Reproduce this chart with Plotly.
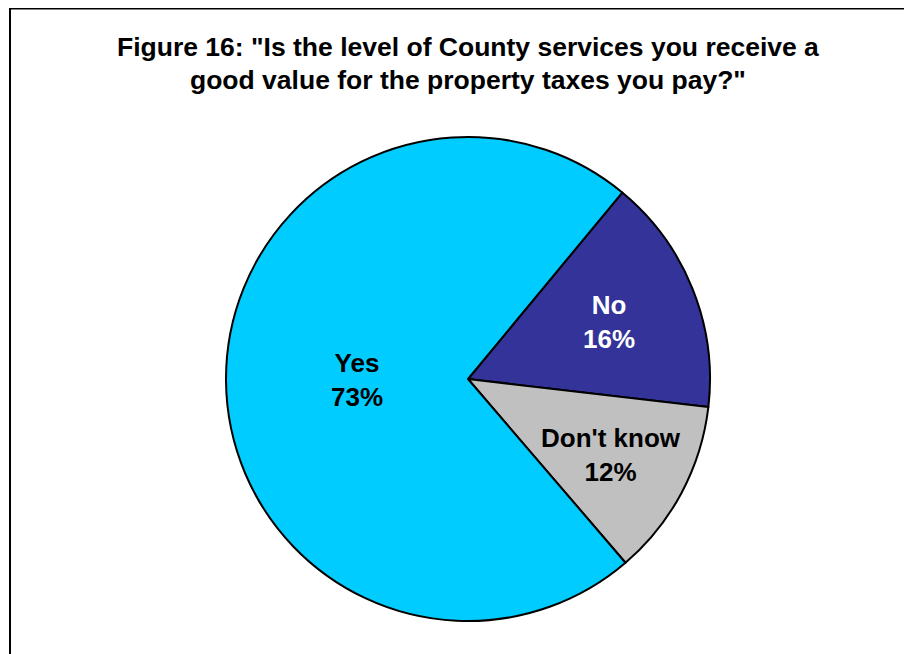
import math
import plotly.graph_objects as go

labels = ["No", "Don't know", "Yes"]
values = [16, 12, 73]
colors = ["#333399", "#C0C0C0", "#00CCFF"]
text_colors = ["white", "black", "black"]
label_radius = [0.63, 0.67, 0.46]   # label distance from centre, as fraction of radius (style)
title_lines = ['Figure 16: "Is the level of County services you receive a',
               'good value for the property taxes you pay?"']

# page has an 8px body margin, so the figure is drawn 8px smaller and offset
OFF = 8
W, H = 912 - OFF, 654 - OFF
cx, cy, r = 468 - OFF, 379 - OFF, 242
ROT = 39.6

fig = go.Figure(go.Pie(
    labels=labels, values=values, sort=False, direction="clockwise",
    rotation=ROT,
    marker=dict(colors=colors, line=dict(color="black", width=2)),
    textinfo="none",
    hoverinfo="label+value",
    domain=dict(x=[(cx - r) / W, (cx + r) / W],
                y=[(H - cy - r) / H, (H - cy + r) / H]),
    showlegend=False,
))

# slice labels placed at each slice's mid-angle, derived from the values
total = sum(values)
start = 90 - ROT
cum = 0
for lab, val, col, fr in zip(labels, values, text_colors, label_radius):
    span = val / total * 360
    mid = math.radians(start - cum - span / 2)
    cum += span
    px = cx + fr * r * math.cos(mid)
    py = cy - fr * r * math.sin(mid)
    fig.add_annotation(text="<b>%s<br>%d%%</b>" % (lab, val),
                       x=px / W, y=1 - py / H, xref="paper", yref="paper",
                       showarrow=False, xanchor="center", yanchor="middle",
                       font=dict(family="Liberation Sans", size=26, color=col))

for line, ypx in zip(title_lines, [47 - OFF, 80 - OFF]):
    fig.add_annotation(text="<b>%s</b>" % line, x=(468 - OFF) / W, y=1 - ypx / H,
                       xref="paper", yref="paper", showarrow=False,
                       xanchor="center", yanchor="middle",
                       font=dict(family="Liberation Sans", size=26.5, color="black"))

fig.add_shape(type="rect", xref="paper", yref="paper",
              x0=2 / W, x1=1.05, y0=-0.05, y1=1 - 0.5 / H,
              line=dict(color="black", width=2), fillcolor="rgba(0,0,0,0)")

fig.update_layout(width=W, height=H, margin=dict(l=0, r=0, t=0, b=0),
                  paper_bgcolor="white", plot_bgcolor="white")
fig.write_html("out.html")
